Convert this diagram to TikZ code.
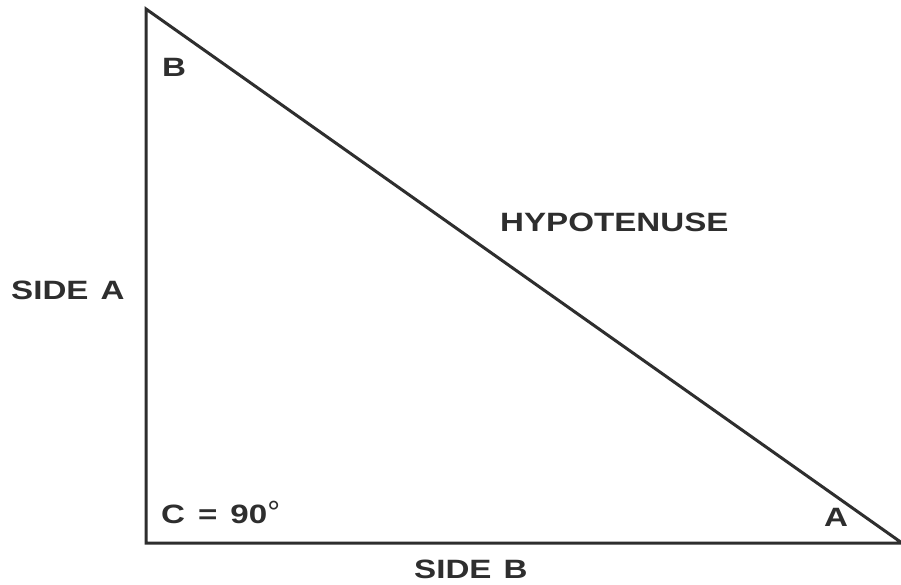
\documentclass[tikz,border=0pt]{standalone}
\usepackage{fontspec}
\setmainfont{Liberation Sans}
\newfontfamily\lblfont[FakeStretch=1.25]{Liberation Sans Bold}
\newfontfamily\degfont{Liberation Sans}
\definecolor{ink}{HTML}{2E2E2E}
\begin{document}
\begin{tikzpicture}[x=1pt,y=-1pt,
  lbl/.style={inner sep=0pt,anchor=base west,text=ink,font=\lblfont\fontsize{26.5}{26.5}\selectfont},
  edge/.style={draw=ink,line width=3pt,line join=miter}]
\useasboundingbox[fill=white] (0,0) rectangle (901,585);
\coordinate (vB) at (146,9);
\coordinate (vC) at (146,543);
\coordinate (vA) at (902,543);
\draw[edge] (vA) -- (vC) -- (vB) -- (vA);
\node[lbl] (lB) at (162,77) {B};
\node[lbl] (lH) at (500,232) {HYPOTENUSE};
\node[lbl] (lSA) at (11,299) {SIDE\hspace{12pt}A};
\node[lbl] (lC) at (161,523) {C\hspace{13pt}=\hspace{13pt}90{\degfont\fontsize{32}{32}\selectfont\char"00B0}};
\node[lbl] (lA) at (824,526) {A};
\node[lbl] (lSB) at (414,578) {SIDE\hspace{12pt}B};
\end{tikzpicture}
\end{document}
